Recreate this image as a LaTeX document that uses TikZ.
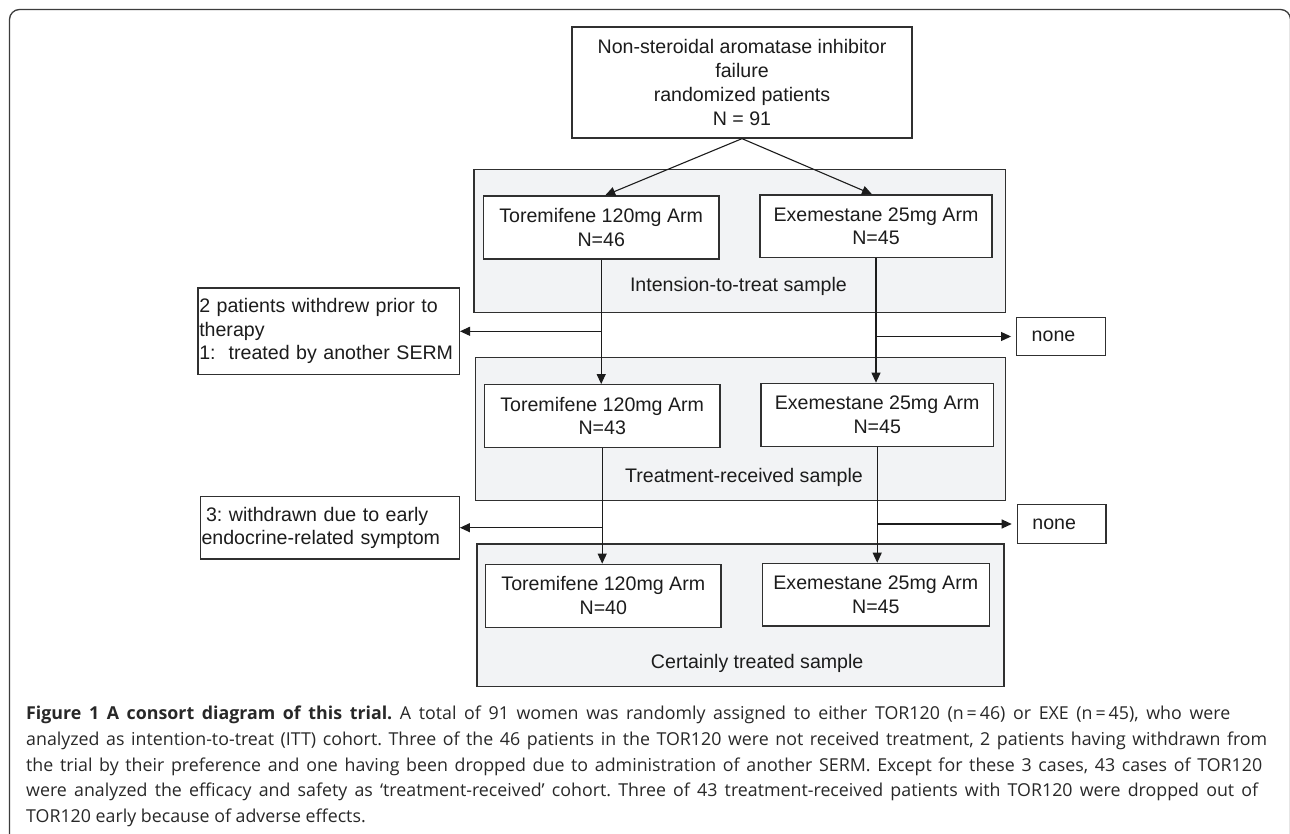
\documentclass[tikz,border=0pt]{standalone}
\usepackage{fontspec}
\setmainfont{Liberation Sans}
\newfontfamily\capfont{Open Sans}
\usetikzlibrary{arrows.meta,calc}
\definecolor{ink}{RGB}{28,28,28}
\definecolor{edgec}{RGB}{48,48,48}
\definecolor{panel}{RGB}{242,243,245}
\definecolor{framec}{RGB}{60,60,60}
\definecolor{capink}{RGB}{40,40,40}
\frenchspacing
\begin{document}
\begin{tikzpicture}[x=1pt,y=-1pt,
  txt/.style={font=\fontsize{19.6}{23.7}\selectfont, text=ink},
  whitebox/.style={txt, draw=edgec, line width=1.3pt, fill=white, inner sep=0pt, align=center},
  sidebox/.style={txt, draw=edgec, line width=1.3pt, fill=white, inner ysep=0pt, inner xsep=1.2pt, align=left, font=\fontsize{19.6}{23.4}\selectfont},
  nonebox/.style={txt, draw=edgec, line width=1.3pt, fill=white, inner ysep=0pt, inner xsep=15pt, align=left},
  graybox/.style={draw=edgec, line width=1.3pt, fill=panel, inner sep=0pt},
  glabel/.style={txt, anchor=base, inner sep=0pt},
  conn/.style={draw=ink, line width=1.1pt},
  arr/.style={conn, -{Triangle[length=10pt,width=9pt]}},
]
\useasboundingbox (0,0) rectangle (1290,834);
\fill[white] (0,0) rectangle (1290,834);
% outer frame
\draw[framec, line width=1.3pt, rounded corners=10pt] (9.5,845) -- (9.5,9.5) -- (1290.5,9.5) -- (1290.5,845);

% gray sample panels
\node[graybox, minimum width=531.3, minimum height=143] (itt) at (739.65,240.8) {};
\node[graybox, minimum width=529.6, minimum height=143.4] (tr) at (740.5,429) {};
\node[graybox, minimum width=527, minimum height=142.7] (ct) at (740.5,615.35) {};
\node[glabel] (ittlab) at (738.4,291.3) {Intension-to-treat sample};
\node[glabel] (trlab) at (744,482) {Treatment-received sample};
\node[glabel] (ctlab) at (757.2,668.3) {Certainly treated sample};

% top box
\node[whitebox, minimum width=340, minimum height=111] (top) at (742,82.5)
  {Non-steroidal aromatase inhibitor\\failure\\randomized patients\\N = 91};

% arm boxes
\node[whitebox, minimum width=235.7, minimum height=63] (tor1) at (601.2,227.5) {Toremifene 120mg Arm\\N=46};
\node[whitebox, minimum width=232, minimum height=62.7] (exe1) at (876,226.3) {Exemestane 25mg Arm\\N=45};
\node[whitebox, minimum width=235.7, minimum height=62.6] (tor2) at (602.2,416) {Toremifene 120mg Arm\\N=43};
\node[whitebox, minimum width=232.3, minimum height=63] (exe2) at (877.2,414.8) {Exemestane 25mg Arm\\N=45};
\node[whitebox, minimum width=235.3, minimum height=63] (tor3) at (603.3,595.8) {Toremifene 120mg Arm\\N=40};
\node[whitebox, minimum width=227, minimum height=62.7] (exe3) at (875.8,594.7) {Exemestane 25mg Arm\\N=45};

% side boxes
\node[sidebox, text width=258.9pt, minimum height=86.7] (left1) at (328.7,331.3)
  {2 patients withdrew prior to\\therapy\\1:\ \ treated by another SERM};
\node[sidebox, text width=256.6pt, minimum height=62.7] (left2) at (329.8,527.7)
  {\hspace*{4.5pt}3: withdrawn due to early\\endocrine-related symptom};
\node[nonebox, text width=59pt, minimum height=38.4] (none1) at (1061.2,336.5) {none};
\node[nonebox, text width=58.7pt, minimum height=38.6] (none2) at (1061.7,524) {none};

% connectors
\draw[arr] (top.south) -- ($(tor1.north)+(4,0)$);
\draw[arr] (top.south) -- ($(exe1.north)+(-4,0)$);
\draw[arr] (tor1.south) -- (tor1.south |- tor2.north);
\draw[arr] (exe1.south) -- (exe1.south |- exe2.north);
\draw[arr] (tor2.south) -- (tor2.south |- tor3.north);
\draw[arr] (exe2.south) -- (exe2.south |- exe3.north);
\draw[arr] (tor1.south |- left1.east) -- (left1.east);
\draw[arr] (tor2.south |- left2.east) -- (left2.east);
\draw[arr] (exe1.south |- none1.west) -- ($(none1.west)+(-5,0)$);
\draw[arr] (exe2.south |- none2.west) -- ($(none2.west)+(-5,0)$);

% caption
\node[anchor=north west, inner sep=0pt, align=left, text=capink,
      font=\capfont\fontsize{17.8}{25.6}\selectfont] (caption) at (26,706)
  {\makebox[1204pt][s]{\textbf{Figure 1 A consort diagram of this trial.} A total of 91 women was randomly assigned to either TOR120 (n\,=\,46) or EXE (n\,=\,45), who were}\\
   \makebox[1241pt][s]{analyzed as intention-to-treat (ITT) cohort. Three of the 46 patients in the TOR120 were not received treatment, 2 patients having withdrawn from}\\
   \makebox[1236pt][s]{the trial by their preference and one having been dropped due to administration of another SERM. Except for these 3 cases, 43 cases of TOR120}\\
   \makebox[1232pt][s]{were analyzed the efficacy and safety as ‘treatment-received’ cohort. Three of 43 treatment-received patients with TOR120 were dropped out of}\\
   TOR120 early because of adverse effects.};
\end{tikzpicture}
\end{document}
